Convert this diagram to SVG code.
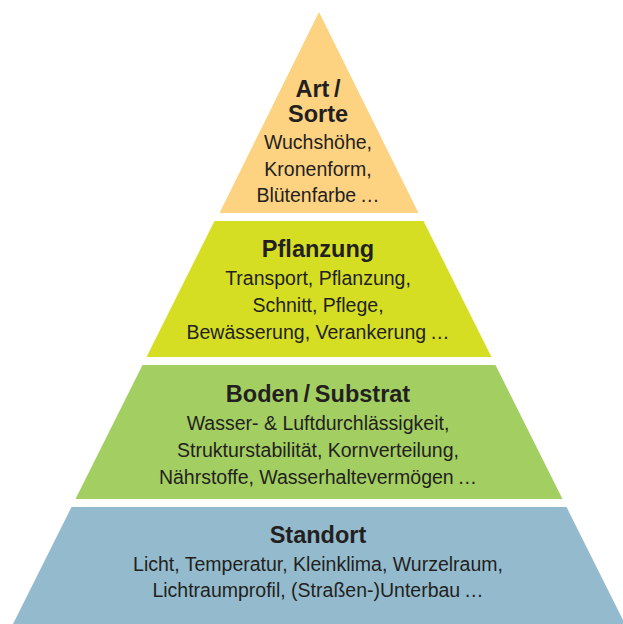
<svg xmlns="http://www.w3.org/2000/svg" width="623" height="624" viewBox="0 0 623 624">
<style>
text{font-family:"Liberation Sans",Arial,sans-serif;fill:#231f20;text-anchor:middle}
.h{font-weight:bold;font-size:23.5px}
.t{font-size:19.5px}
</style>
<rect width="623" height="624" fill="#ffffff"/>
<g id="art">
<polygon points="319,12 418.5,213 219.5,213" fill="#fdd281"/>
<text class="h" x="318" y="97">Art&#8201;/</text>
<text class="h" x="318" y="122">Sorte</text>
<text class="t" x="318" y="149">Wuchshöhe,</text>
<text class="t" x="318" y="176">Kronenform,</text>
<text class="t" x="318" y="202">Blütenfarbe&#8201;…</text>
</g>
<g id="pflanzung">
<polygon points="214.5,221 423.5,221 491.5,357 146.5,357" fill="#d6de23"/>
<text class="h" x="318" y="257">Pflanzung</text>
<text class="t" x="318" y="285">Transport, Pflanzung,</text>
<text class="t" x="318" y="312">Schnitt, Pflege,</text>
<text class="t" x="318" y="338.5">Bewässerung, Verankerung&#8201;…</text>
</g>
<g id="boden">
<polygon points="142.5,365 495.5,365 562.5,499 75.5,499" fill="#a3ce62"/>
<text class="h" x="318" y="402">Boden&#8201;/&#8201;Substrat</text>
<text class="t" x="318" y="430">Wasser- &amp; Luftdurchlässigkeit,</text>
<text class="t" x="318" y="457">Strukturstabilität, Kornverteilung,</text>
<text class="t" x="318" y="483.5">Nährstoffe, Wasserhaltevermögen&#8201;…</text>
</g>
<g id="standort">
<polygon points="71.5,507 566.5,507 625,624 13,624" fill="#93bbcd"/>
<text class="h" x="318" y="542.5">Standort</text>
<text class="t" x="318" y="570.5">Licht, Temperatur, Kleinklima, Wurzelraum,</text>
<text class="t" x="318" y="597">Lichtraumprofil, (Straßen-)Unterbau&#8201;…</text>
</g>
<g id="connectors"/>
</svg>
